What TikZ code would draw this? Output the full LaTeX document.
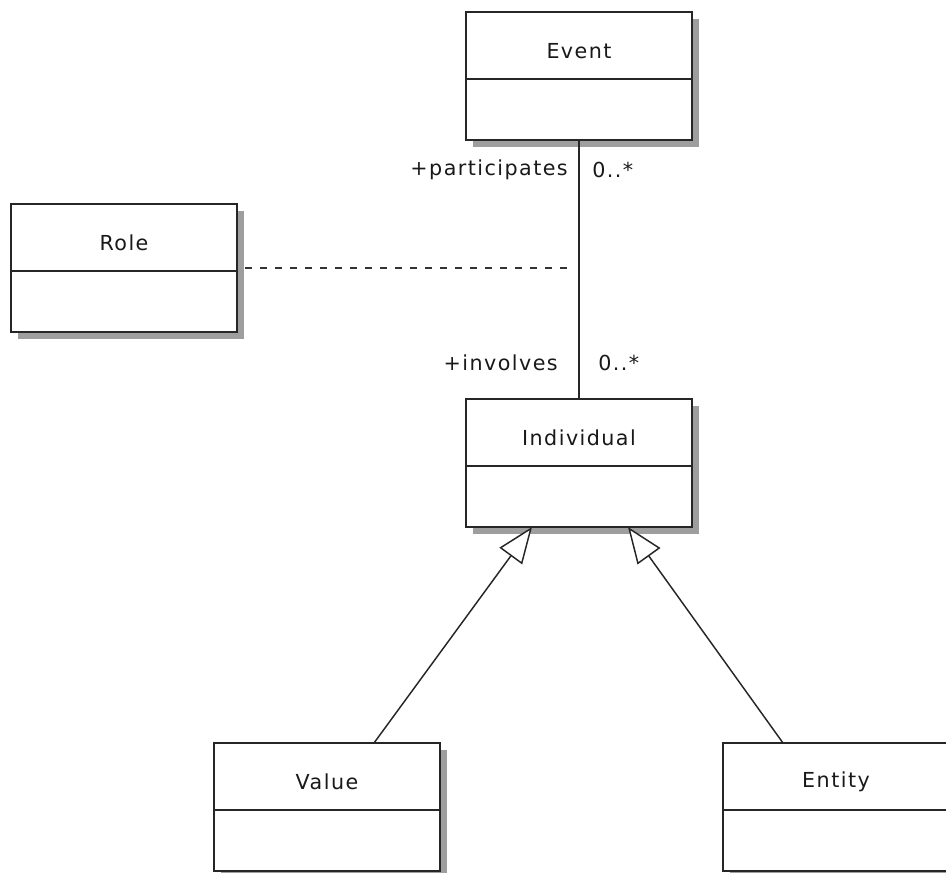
\documentclass[tikz,border=0pt]{standalone}
\usepackage{fontspec}
\setmainfont[LetterSpace=7]{DejaVu Sans}
\usetikzlibrary{calc,arrows.meta}

\tikzset{
  classbox/.style={draw=black!85, line width=1.5pt, fill=white, rectangle,
    minimum width=169.5pt, minimum height=96pt, inner sep=0pt, outer sep=0pt},
  boxshadow/.style={fill=black!38},
  divider/.style={draw=black!85, line width=1.3pt},
  classname/.style={font=\fontsize{15.5}{18}\selectfont, text=black!90, inner sep=0pt},
  rolename/.style={font=\fontsize{15.5}{18}\selectfont, text=black!90, inner sep=0pt},
  assoc/.style={draw=black!85, line width=1.3pt},
  assocclass/.style={draw=black!80, line width=1.3pt, dash pattern=on 5.25pt off 6pt},
  generalize/.style={draw=black!85, line width=1.1pt,
    -{Triangle[open, length=27pt, width=21pt, fill=white]}},
}

% class box: name, left x, top y, title
\newcommand\umlclass[4]{%
  \fill[boxshadow] (#2+7,#3+7) rectangle ++(226,128);
  \node[classbox, anchor=north west] (#1) at (#2,#3) {};
  \draw[divider] ($(#1.north west)+(0,67)$) -- ($(#1.north east)+(0,67)$);
  \node[classname] (#1-title) at ($(#1.north)+(0,39)$) {#4};
}

\begin{document}
\begin{tikzpicture}[x=0.75pt, y=-0.75pt]
  \useasboundingbox (0,0) rectangle (946,873);
  \clip (0,0) rectangle (946,873);

  \umlclass{event}{466}{12}{Event}
  \umlclass{role}{11}{204}{Role}
  \umlclass{individual}{466}{399}{Individual}
  \umlclass{value}{214}{743}{Value}
  \umlclass{entity}{723}{743}{Entity}

  % association Event -- Individual
  \draw[assoc] (event.south) -- (individual.north);
  \node[rolename, anchor=east] (participates) at (568,170) {+participates};
  \node[rolename, anchor=west] (multtop) at (592,170) {0..*};
  \node[rolename, anchor=east] (involves) at (558,363) {+involves};
  \node[rolename, anchor=west] (multbot) at (598,363) {0..*};

  % association class link
  \coordinate (assocpoint) at (572,268);
  \draw[assocclass] ($(role.east)+(8,0)$) -- (assocpoint);

  % generalizations
  \draw[generalize] ($(value.north west)+(160,0)$) -- ($(individual.south west)+(66,0)$);
  \draw[generalize] ($(entity.north west)+(60,0)$) -- ($(individual.south west)+(162,0)$);
\end{tikzpicture}
\end{document}
